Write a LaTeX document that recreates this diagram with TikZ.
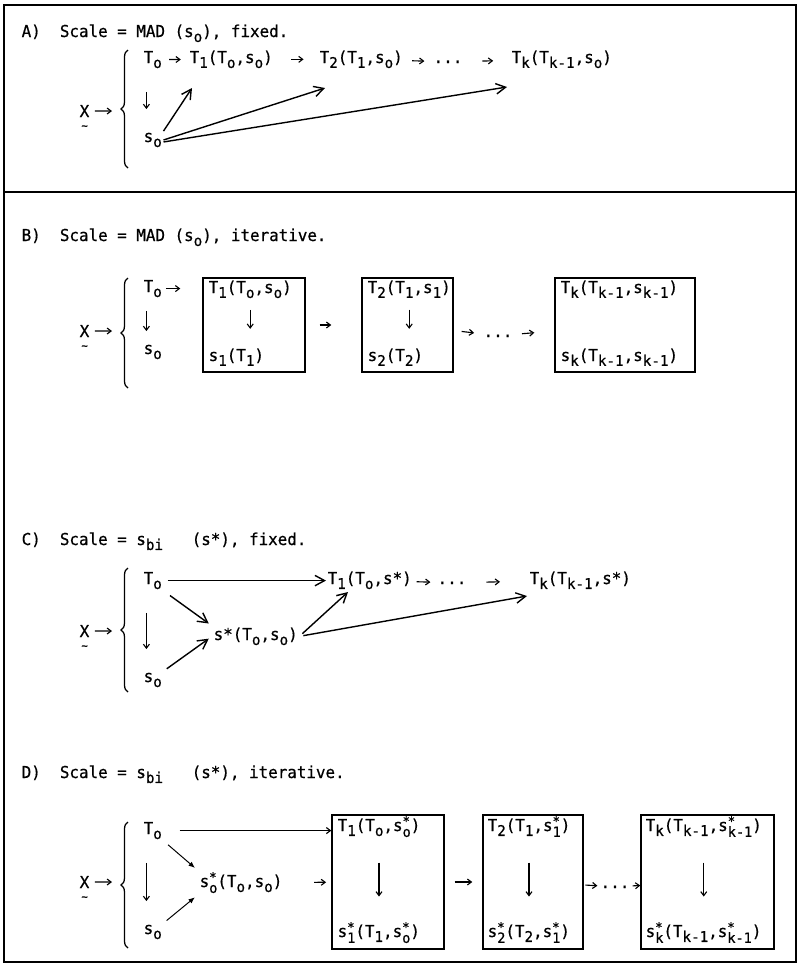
\documentclass[tikz,border=0pt]{standalone}
\usepackage{fontspec}
\setmainfont[FakeStretch=0.965,FakeBold=0.6]{DejaVu Sans Mono}
\usetikzlibrary{arrows.meta,decorations.pathreplacing,calc}
\newcommand\lo[1]{\raisebox{-0.55ex}{\fontsize{10.5}{12}\selectfont #1}}
\newcommand\lohi[2]{\makebox[0pt][l]{\raisebox{0.6ex}{\fontsize{9}{10}\selectfont #2}}\raisebox{-0.65ex}{\fontsize{10}{11}\selectfont #1}}
\newcommand\tX{\rlap{\smash{\raisebox{-1.4ex}{\kern0.1em\fontsize{8}{8}\selectfont\textasciitilde}}}X}
\tikzset{
  txt/.style={anchor=base west,inner sep=1pt,font=\fontsize{11.7}{14}\selectfont},
  lng/.style={-{Straight Barb[length=2.4mm,width=2.6mm]},line width=1pt},
  shrt/.style={-{Straight Barb[length=1mm,width=1.5mm]},line width=0.8pt},
  thn/.style={-{Latex[length=1.6mm,width=1.3mm]},line width=0.7pt},
  kasten/.style={draw,line width=1pt,inner sep=0pt},
  klammer/.style={decorate,decoration={brace,amplitude=5pt},line width=0.9pt},
  rahmen/.style={line width=1.2pt},
}
\begin{document}
\begin{tikzpicture}[x=0.25mm,y=-0.25mm]
  \useasboundingbox (0,0) rectangle (800,970);
  \draw[rahmen] (4,5) rectangle (796,962);
  \draw[rahmen] (4,192) -- (796,192);
  % --- A) fixed MAD ---
  \node[txt] (hA) at (20,37) {A)\ \ Scale = MAD (s\lo{o}), fixed.};
  \node[txt] (xA) at (78,117) {\tX};
  \coordinate (kA) at (112,111);
  \draw[shrt,shorten <=1mm] (xA) -- (kA);
  \draw[klammer] (128,168) -- (128,50);
  \node[txt] (T0A) at (142,63) {T\lo{o}};
  \node[txt] (T1A) at (188,63) {T\lo{1}(T\lo{o},s\lo{o})};
  \node[txt] (T2A) at (318,63) {T\lo{2}(T\lo{1},s\lo{o})};
  \node[txt] (dA) at (432,63) {...};
  \node[txt] (TkA) at (510,63) {T\lo{k}(T\lo{k-1},s\lo{o})};
  \node[txt] (sA) at (142,142) {s\lo{o}};
  \draw[shrt,shorten <=1.4mm,shorten >=1.8mm] (T0A) -- (T1A);
  \draw[shrt,shorten <=4.2mm,shorten >=3.6mm] (T1A) -- (T2A);
  \draw[shrt,shorten <=1.9mm,shorten >=1.9mm] (T2A) -- (dA);
  \draw[shrt,shorten <=4.6mm,shorten >=4.2mm] (dA) -- (TkA);
  \draw[shrt,shorten <=5.5mm,shorten >=5.5mm] ([xshift=1.1mm]T0A.south west) -- ([xshift=1.1mm]sA.north west);
  \coordinate (pA1) at (192,88);
  \coordinate (pA2) at (325,88);
  \coordinate (pA3) at (507,87);
  \draw[lng] (sA.north east) -- (pA1);
  \draw[lng] (sA.east) -- (pA2);
  \draw[lng] ([yshift=-0.5mm]sA.east) -- (pA3);
  % --- B) iterative MAD ---
  \node[txt] (hB) at (20,241) {B)\ \ Scale = MAD (s\lo{o}), iterative.};
  \node[txt] (xB) at (78,337) {\tX};
  \coordinate (kB) at (112,331);
  \draw[shrt,shorten <=1mm] (xB) -- (kB);
  \draw[klammer] (128,388) -- (128,278);
  \node[txt] (T0B) at (142,292) {T\lo{o}};
  \node[txt] (sB) at (142,354) {s\lo{o}};
  \draw[shrt,shorten <=3mm,shorten >=3mm] ([xshift=1.1mm]T0B.south west) -- ([xshift=1.1mm]sB.north west);
  \node[kasten,minimum width=25.5mm,minimum height=23.5mm] (b1B) at (254,325) {};
  \node[kasten,minimum width=22.75mm,minimum height=23.5mm] (b2B) at (407.5,325) {};
  \node[kasten,minimum width=35mm,minimum height=23.5mm] (b3B) at (625,325) {};
  \node[txt] (t1B) at (207,293) {T\lo{1}(T\lo{o},s\lo{o})};
  \node[txt] (u1B) at (207,361) {s\lo{1}(T\lo{1})};
  \node[txt] (t2B) at (366,293) {T\lo{2}(T\lo{1},s\lo{1})};
  \node[txt] (u2B) at (366,361) {s\lo{2}(T\lo{2})};
  \node[txt] (t3B) at (559,293) {T\lo{k}(T\lo{k-1},s\lo{k-1})};
  \node[txt] (u3B) at (559,361) {s\lo{k}(T\lo{k-1},s\lo{k-1})};
  \node[txt] (dB) at (482,337) {...};
  \draw[shrt,shorten <=0.6mm,shorten >=5.5mm] (T0B.east) -- (T0B.east -| b1B.west);
  \draw[shrt,shorten <=3.5mm,shorten >=3.5mm] ([yshift=1mm]t1B.south) -- ([yshift=1mm]t1B.south |- u1B.north);
  \draw[shrt,shorten <=3.5mm,shorten >=3.5mm] ([yshift=1mm]t2B.south) -- ([yshift=1mm]t2B.south |- u2B.north);
  \draw[shrt,shorten <=3.5mm,shorten >=7.5mm] (b1B) -- (b2B);
  \draw[shrt,shorten <=2mm,shorten >=2mm] (b2B) -- (dB);
  \draw[shrt,shorten <=2mm,shorten >=5mm] (dB) -- (b3B);
  % --- C) fixed s_bi ---
  \node[txt] (hC) at (20,545) {C)\ \ Scale = s\lo{bi}\ \ \ (s*), fixed.};
  \node[txt] (xC) at (78,637) {\tX};
  \coordinate (kC) at (112,631);
  \draw[shrt,shorten <=1mm] (xC) -- (kC);
  \draw[klammer] (128,692) -- (128,568);
  \node[txt] (T0C) at (142,584) {T\lo{o}};
  \node[txt] (sC) at (142,682) {s\lo{o}};
  \node[txt] (ssC) at (212,640) {s*(T\lo{o},s\lo{o})};
  \node[txt] (T1C) at (326,584) {T\lo{1}(T\lo{o},s*)};
  \node[txt] (dC) at (436,584) {...};
  \node[txt] (TkC) at (528,584) {T\lo{k}(T\lo{k-1},s*)};
  \draw[shrt,shorten <=5.5mm,shorten >=5.5mm] ([xshift=1.1mm]T0C.south west) -- ([xshift=1.1mm]sC.north west);
  \draw[lng,shorten <=1mm] (T0C.east) -- (T0C.east -| T1C.west);
  \draw[shrt,shorten <=0.8mm,shorten >=1.4mm] (T1C) -- (dC);
  \draw[shrt,shorten <=4.6mm,shorten >=7mm] (dC) -- (TkC);
  \draw[lng,shorten <=2mm,shorten >=1mm] (T0C.south east) -- (ssC.north west);
  \draw[lng,shorten <=1mm,shorten >=1mm] (sC.north east) -- (ssC.west);
  \coordinate (pC1) at (348,592);
  \coordinate (pC2) at (527,596);
  \draw[lng,shorten <=1mm] (ssC.east) -- (pC1);
  \draw[lng,shorten <=1mm] (ssC.east) -- (pC2);
  % --- D) iterative s_bi ---
  \node[txt] (hD) at (20,778) {D)\ \ Scale = s\lo{bi}\ \ \ (s*), iterative.};
  \node[txt] (xD) at (78,888) {\tX};
  \coordinate (kD) at (112,882);
  \draw[shrt,shorten <=1mm] (xD) -- (kD);
  \draw[klammer] (128,948) -- (128,822);
  \node[txt] (T0D) at (142,834) {T\lo{o}};
  \node[txt] (sD) at (142,934) {s\lo{o}};
  \node[txt] (ssD) at (198,887) {s\lohi{o}{*}(T\lo{o},s\lo{o})};
  \node[kasten,minimum width=28mm,minimum height=33.5mm] (b1D) at (388,882) {};
  \node[kasten,minimum width=25mm,minimum height=33.5mm] (b2D) at (533,882) {};
  \node[kasten,minimum width=33.25mm,minimum height=33.5mm] (b3D) at (707.5,882) {};
  \node[txt] (t1D) at (336,831) {T\lo{1}(T\lo{o},s\lohi{o}{*})};
  \node[txt] (u1D) at (336,937) {s\lohi{1}{*}(T\lo{1},s\lohi{o}{*})};
  \node[txt] (t2D) at (486,831) {T\lo{2}(T\lo{1},s\lohi{1}{*})};
  \node[txt] (u2D) at (486,937) {s\lohi{2}{*}(T\lo{2},s\lohi{1}{*})};
  \node[txt] (t3D) at (644,831) {T\lo{k}(T\lo{k-1},s\lohi{k-1}{*})};
  \node[txt] (u3D) at (644,937) {s\lohi{k}{*}(T\lo{k-1},s\lohi{k-1}{*})};
  \node[txt] (dD) at (599,888) {...};
  \draw[shrt,shorten <=5.5mm,shorten >=5.5mm] ([xshift=1.1mm]T0D.south west) -- ([xshift=1.1mm]sD.north west);
  \draw[shrt,shorten <=4mm] (T0D.east) -- (T0D.east -| b1D.west);
  \draw[thn,shorten <=1.5mm,shorten >=1mm] (T0D.south east) -- (ssD.north west);
  \draw[thn,shorten <=1mm,shorten >=1mm] (sD.north east) -- (ssD.south west);
  \draw[shrt,shorten <=7.5mm,shorten >=1.3mm] (ssD) -- (b1D);
  \draw[shrt,shorten <=6mm,shorten >=6mm] (t1D.south) -- (t1D.south |- u1D.north);
  \draw[shrt,shorten <=6mm,shorten >=6mm] (t2D.south) -- (t2D.south |- u2D.north);
  \draw[shrt,shorten <=6mm,shorten >=6mm] (t3D.south) -- (t3D.south |- u3D.north);
  \draw[shrt,shorten <=2.5mm,shorten >=2.5mm] (b1D) -- (b2D);
  \draw[shrt,shorten <=0.4mm,shorten >=0.4mm] (b2D) -- (dD);
  \draw[shrt,shorten <=0.4mm] (dD) -- (b3D);
\end{tikzpicture}
\end{document}
